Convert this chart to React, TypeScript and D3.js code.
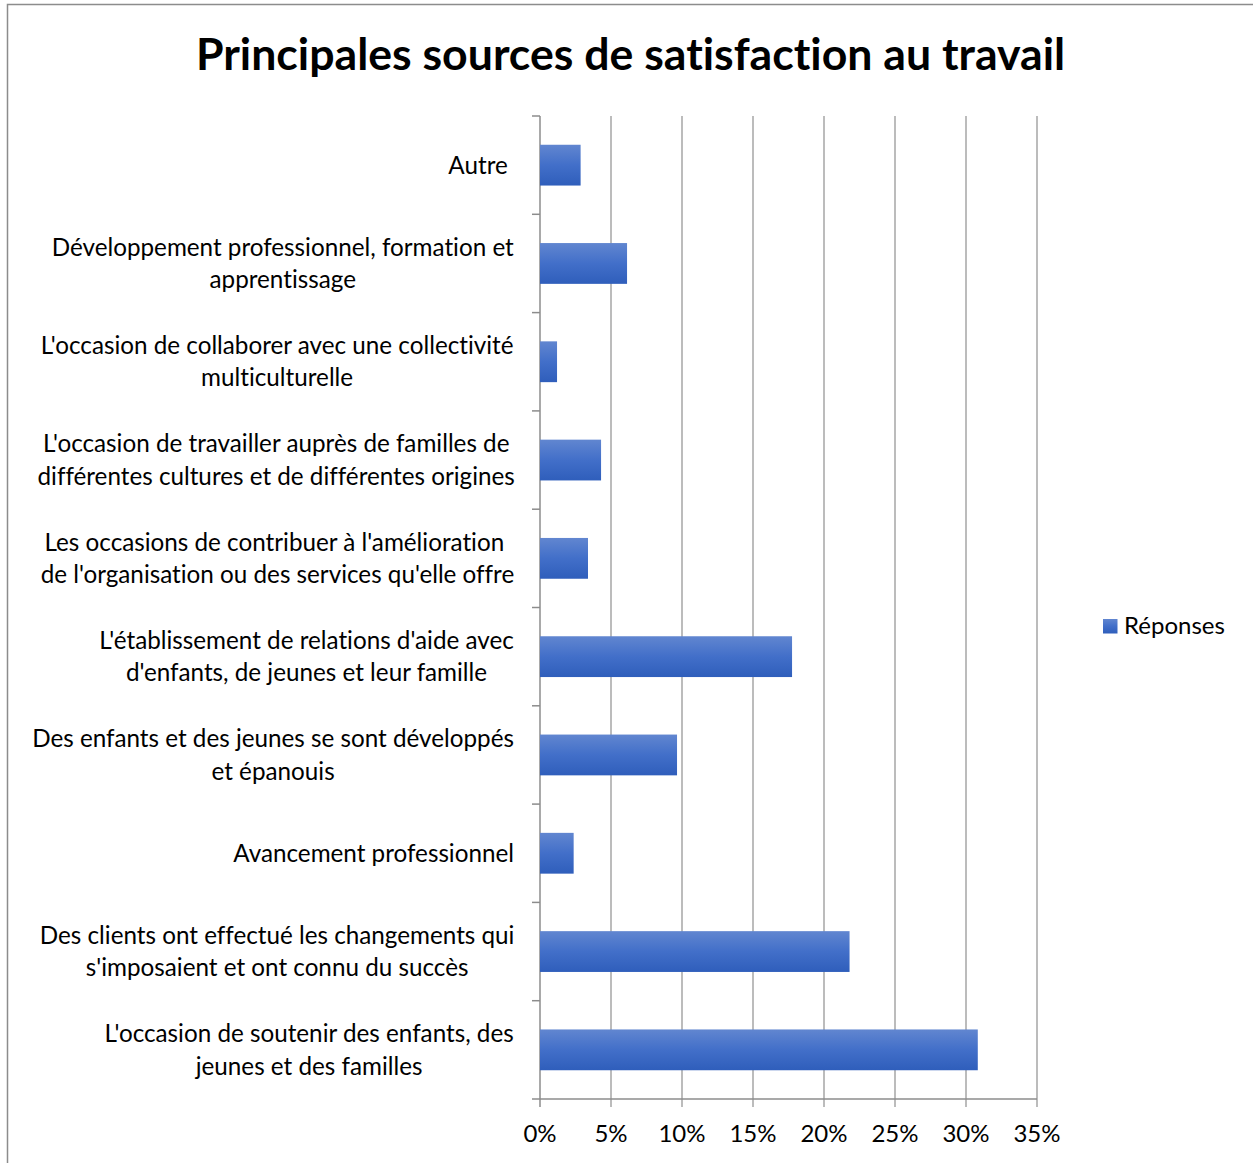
import React from "react";
import * as d3 from "d3";

const TITLE = "Principales sources de satisfaction au travail";
const SERIES_NAME = "Réponses";

const categoryLines: string[][] = [
  ["Autre "],
  ["Développement professionnel, formation et", "apprentissage"],
  ["L'occasion de collaborer avec une collectivité", "multiculturelle"],
  ["L'occasion de travailler auprès de familles de", "différentes cultures et de différentes origines"],
  ["Les occasions de contribuer à l'amélioration ", "de l'organisation ou des services qu'elle offre"],
  ["L'établissement de relations d'aide avec", "d'enfants, de jeunes et leur famille"],
  ["Des enfants et des jeunes se sont développés", "et épanouis"],
  ["Avancement professionnel"],
  ["Des clients ont effectué les changements qui", "s'imposaient et ont connu du succès"],
  ["L'occasion de soutenir des enfants, des", "jeunes et des familles"],
];

const values: number[] = [2.86, 6.13, 1.2, 4.3, 3.38, 17.75, 9.65, 2.37, 21.8, 30.83];

const xTicks: number[] = [0, 5, 10, 15, 20, 25, 30, 35];

const W = 1253;
const H = 1163;
const FONT = "Lato, 'Open Sans', sans-serif";
const noLig: React.CSSProperties = {
  whiteSpace: "pre",
  fontVariantLigatures: "none",
  fontFeatureSettings: "'liga' 0, 'clig' 0",
};

let ctx: CanvasRenderingContext2D | null = null;
function measure(text: string, size: number, weight = "normal"): number {
  if (!ctx) ctx = document.createElement("canvas").getContext("2d");
  if (!ctx) return text.length * size * 0.5;
  ctx.font = `${weight} ${size}px Lato`;
  return ctx.measureText(text).width;
}

export default function App() {
  const categories = categoryLines.map((l) => l.join(" "));
  const x = d3.scaleLinear().domain([0, 35]).range([540, 1037]);
  const y = d3.scaleBand<string>().domain(categories).range([116, 1099]).padding(0);
  const barH = y.bandwidth() * 0.415;

  const refLine = categoryLines[6][0];
  const labelSize = Math.min(25.5, (482 / measure(refLine, 100)) * 100);
  const titleSize = (871 / measure(TITLE, 100, "bold")) * 100;
  const lineGap = 32.5;
  const labelRight = 514;

  return (
    <div style={{ position: "absolute", left: 0, top: 0 }}>
      <svg width={W} height={H} style={{ display: "block" }}>
        <defs>
          <linearGradient id="barGrad" x1="0" y1="0" x2="0" y2="1">
            <stop offset="0%" stopColor="#6186d0" />
            <stop offset="50%" stopColor="#426fc9" />
            <stop offset="100%" stopColor="#2f5ebb" />
          </linearGradient>
        </defs>
        <rect x={0} y={0} width={W} height={H} fill="#fff" />
        <rect x={7.5} y={4.5} width={W + 20} height={H + 20} fill="none" stroke="#8c8c8c" strokeWidth={1.5} />

        <text
          x={630.5}
          y={70}
          textAnchor="middle"
          fontFamily={FONT}
          fontWeight="bold"
          fontSize={titleSize}
          fill="#000"
          style={noLig}
        >
          {TITLE}
        </text>

        {xTicks.map((t) => (
          <line
            key={"g" + t}
            x1={x(t)}
            x2={x(t)}
            y1={116}
            y2={1107}
            stroke={t === 0 ? "#8c8c8c" : "#a6a6a6"}
            strokeWidth={1.5}
          />
        ))}
        <line x1={532} x2={x(35)} y1={1099} y2={1099} stroke="#8c8c8c" strokeWidth={1.5} />
        {categories.map((c) => (
          <line key={"t" + c} x1={532} x2={540} y1={y(c)!} y2={y(c)!} stroke="#8c8c8c" strokeWidth={1.5} />
        ))}

        {categories.map((c, i) => (
          <rect
            key={"b" + c}
            x={x(0)}
            y={y(c)! + (y.bandwidth() - barH) / 2}
            width={x(values[i]) - x(0)}
            height={barH}
            fill="url(#barGrad)"
          />
        ))}

        {categoryLines.map((lines, i) => {
          const c = categories[i];
          const cy = y(c)! + y.bandwidth() / 2;
          const widths = lines.map((l) => measure(l, labelSize));
          const maxW = Math.max(...widths);
          const centerX = labelRight - maxW / 2;
          const n = lines.length;
          return (
            <g key={"l" + c}>
              {lines.map((l, j) => (
                <text
                  key={j}
                  x={centerX}
                  y={cy + (j - (n - 1) / 2) * lineGap}
                  dy="0.35em"
                  textAnchor="middle"
                  fontFamily={FONT}
                  fontSize={labelSize}
                  fill="#000"
                  style={noLig}
                >
                  {l}
                </text>
              ))}
            </g>
          );
        })}

        {xTicks.map((t) => (
          <text
            key={"x" + t}
            x={x(t)}
            y={1142}
            textAnchor="middle"
            fontFamily={FONT}
            fontSize={24}
            fill="#000"
          >
            {t + "%"}
          </text>
        ))}

        <rect x={1103} y={619} width={14.5} height={14.5} fill="url(#barGrad)" />
        <text x={1124} y={634} fontFamily={FONT} fontSize={24} fill="#000" style={noLig}>
          {SERIES_NAME}
        </text>
      </svg>
    </div>
  );
}
